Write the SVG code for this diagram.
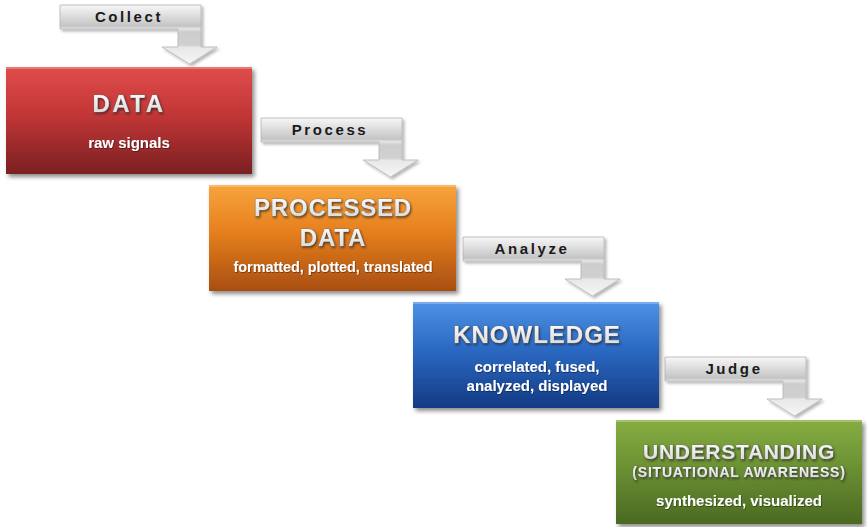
<svg xmlns="http://www.w3.org/2000/svg" width="867" height="527" viewBox="0 0 867 527">
<style>
.title{font-family:"Liberation Sans",Arial,sans-serif;font-weight:bold;font-size:24px;fill:url(#gTitle);stroke:#6e6e6e;stroke-width:0.6;paint-order:stroke;text-anchor:middle;filter:url(#tshadow)}
.sub{font-family:"Liberation Sans",Arial,sans-serif;font-weight:bold;font-size:15px;fill:#ffffff;text-anchor:middle;filter:url(#sshadow)}
.lbl{font-family:"Liberation Sans",Arial,sans-serif;font-weight:bold;font-size:15px;fill:#1a1a1a;text-anchor:middle;letter-spacing:2.6px}
.arrow{fill:url(#gArrow);stroke:#b4b4b4;stroke-width:0.8;filter:url(#ashadow)}
.box{filter:url(#bshadow)}
.hl{fill:#ffffff;opacity:0.25}
</style>
<defs>
<linearGradient id="gTitle" x1="0" y1="0" x2="0" y2="1">
<stop offset="0" stop-color="#ffffff"/>
<stop offset="1" stop-color="#d6d6d6"/>
</linearGradient>
<linearGradient id="gArrow" x1="0" y1="0" x2="0" y2="1">
<stop offset="0" stop-color="#f7f7f7"/>
<stop offset="0.36" stop-color="#c4c4c4"/>
<stop offset="0.40" stop-color="#e4e4e4"/>
<stop offset="0.46" stop-color="#cdcdcd"/>
<stop offset="0.68" stop-color="#d0d0d0"/>
<stop offset="0.72" stop-color="#e8e8e8"/>
<stop offset="1" stop-color="#f6f6f6"/>
</linearGradient>
<linearGradient id="gRed" x1="0" y1="0" x2="0" y2="1">
<stop offset="0" stop-color="#e04c4c"/>
<stop offset="0.45" stop-color="#c23636"/>
<stop offset="1" stop-color="#7a2022"/>
</linearGradient>
<linearGradient id="gOrange" x1="0" y1="0" x2="0" y2="1">
<stop offset="0" stop-color="#f8a43c"/>
<stop offset="0.45" stop-color="#e57f1e"/>
<stop offset="1" stop-color="#a84e10"/>
</linearGradient>
<linearGradient id="gBlue" x1="0" y1="0" x2="0" y2="1">
<stop offset="0" stop-color="#4d92e4"/>
<stop offset="0.45" stop-color="#2b69c2"/>
<stop offset="1" stop-color="#133a84"/>
</linearGradient>
<linearGradient id="gGreen" x1="0" y1="0" x2="0" y2="1">
<stop offset="0" stop-color="#86ad42"/>
<stop offset="0.45" stop-color="#6b9133"/>
<stop offset="1" stop-color="#4a6922"/>
</linearGradient>
<filter id="bshadow" x="-10%" y="-10%" width="125%" height="130%">
<feDropShadow dx="2.5" dy="3" stdDeviation="2" flood-color="#000" flood-opacity="0.45"/>
</filter>
<filter id="ashadow" x="-10%" y="-10%" width="125%" height="130%">
<feDropShadow dx="2" dy="2" stdDeviation="1.5" flood-color="#000" flood-opacity="0.3"/>
</filter>
<filter id="tshadow" x="-10%" y="-20%" width="125%" height="150%">
<feDropShadow dx="1" dy="1.5" stdDeviation="0.8" flood-color="#1a1a1a" flood-opacity="0.7"/>
</filter>
<filter id="sshadow" x="-10%" y="-20%" width="125%" height="150%">
<feDropShadow dx="0.6" dy="0.8" stdDeviation="0.5" flood-color="#000" flood-opacity="0.5"/>
</filter>
<path id="arrowShape" d="M0,0 H141 V42 H157 L129.5,59 L102,42 H118 V24 H0 Z"/>
</defs>
<rect width="867" height="527" fill="#ffffff"/>

<g id="connectors">
<g id="arrow-collect" transform="translate(60,5)">
<use href="#arrowShape" class="arrow"/>
<text class="lbl" x="69" y="17">Collect</text>
</g>
<g id="arrow-process" transform="translate(261,118)">
<use href="#arrowShape" class="arrow"/>
<text class="lbl" x="69" y="17">Process</text>
</g>
<g id="arrow-analyze" transform="translate(463,237)">
<use href="#arrowShape" class="arrow"/>
<text class="lbl" x="69" y="17">Analyze</text>
</g>
<g id="arrow-judge" transform="translate(665,357)">
<use href="#arrowShape" class="arrow"/>
<text class="lbl" x="69" y="17">Judge</text>
</g>
</g>

<g id="node-data">
<rect class="box" x="6" y="67" width="246" height="107" fill="url(#gRed)"/>
<rect class="hl" x="6" y="67" width="246" height="2"/>
<text class="title" x="129" y="112" style="letter-spacing:2.5px">DATA</text>
<text class="sub" x="129" y="148">raw signals</text>
</g>

<g id="node-processed">
<rect class="box" x="209" y="185" width="247" height="106" fill="url(#gOrange)"/>
<rect class="hl" x="209" y="185" width="247" height="2"/>
<text class="title" x="333" y="216" style="letter-spacing:0.8px">PROCESSED</text>
<text class="title" x="333" y="246" style="letter-spacing:0.8px">DATA</text>
<text class="sub" x="333" y="272" style="font-size:14.4px">formatted, plotted, translated</text>
</g>

<g id="node-knowledge">
<rect class="box" x="413" y="302" width="246" height="106" fill="url(#gBlue)"/>
<rect class="hl" x="413" y="302" width="246" height="2"/>
<text class="title" x="537" y="343" style="letter-spacing:1px">KNOWLEDGE</text>
<text class="sub" x="537" y="372">correlated, fused,</text>
<text class="sub" x="537" y="391">analyzed, displayed</text>
</g>

<g id="node-understanding">
<rect class="box" x="616" y="420" width="246" height="104" fill="url(#gGreen)"/>
<rect class="hl" x="616" y="420" width="246" height="2"/>
<text class="title" x="739" y="459" style="font-size:21px;letter-spacing:0.7px">UNDERSTANDING</text>
<text class="title" x="739" y="477" style="font-size:14px;letter-spacing:0.8px;stroke-width:0.4">(SITUATIONAL AWARENESS)</text>
<text class="sub" x="739" y="506">synthesized, visualized</text>
</g>
</svg>
